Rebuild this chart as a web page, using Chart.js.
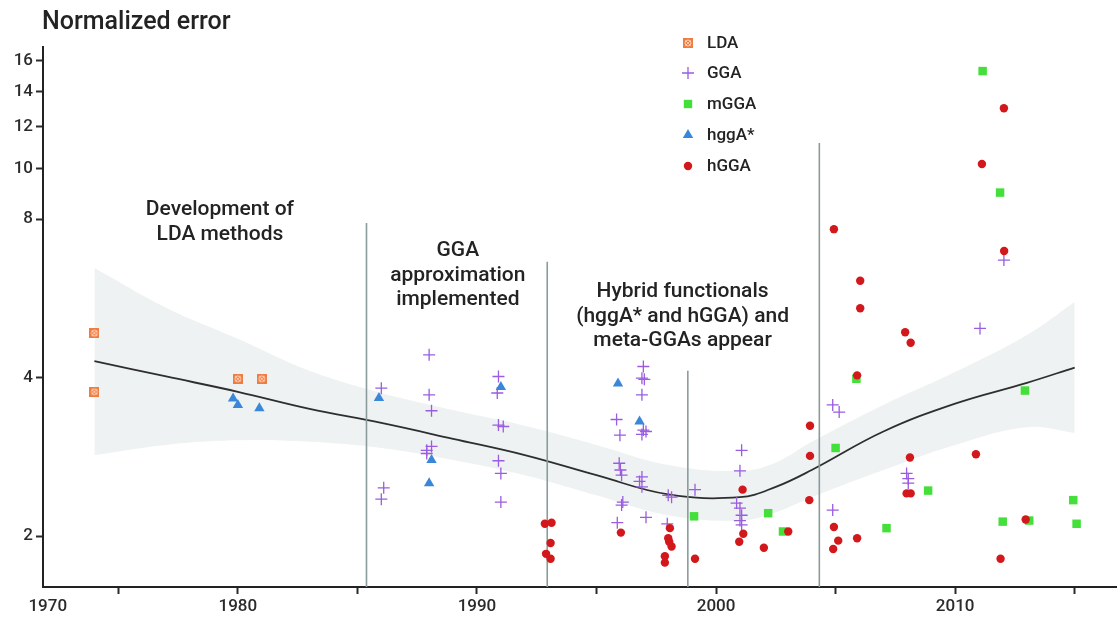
<!DOCTYPE html>
<html>
<head>
<meta charset="utf-8">
<script src="https://cdn.jsdelivr.net/npm/chart.js@4/dist/chart.umd.min.js"></script>
<style>
  html, body { margin: 0; padding: 0; background: #fff; }
  canvas { display: block; }
</style>
</head>
<body>
<canvas id="chart" width="1117" height="622"></canvas>
<script>
// ---- Data: year of publication vs. normalized error, by functional family ----
const ldaYears  = [1974.0, 1974.0, 1980.0, 1981.0];
const ldaErrors = [4.86, 3.76, 3.98, 3.98];

const ggaYears  = [1986.0, 1986.1, 1986.0, 1988.0, 1988.0, 1988.1, 1988.1, 1987.9, 1987.9,
                   1990.9, 1990.85, 1990.9, 1991.1, 1990.9, 1991.0, 1991.0,
                   1996.96, 1996.9, 1997.0, 1996.9, 1995.84, 1995.98, 1996.96, 1997.07, 1996.9,
                   1995.95, 1996.0, 1996.05, 1996.9, 1996.8, 1996.9, 1996.05, 1996.1, 1995.87, 1997.07,
                   1998.0, 1998.14, 1997.96, 1999.12,
                   2001.07, 2001.0, 2000.86, 2001.0, 2001.07, 2001.0, 2001.07,
                   2004.88, 2005.15, 2004.88, 2007.97, 2008.04, 2008.04, 2012.04, 2011.04];
const ggaErrors = [3.82, 2.47, 2.35, 4.42, 3.71, 3.46, 2.96, 2.91, 2.87,
                   4.02, 3.74, 3.25, 3.23, 2.78, 2.63, 2.32,
                   4.20, 3.99, 3.97, 3.71, 3.33, 3.11, 3.18, 3.16, 3.12,
                   2.75, 2.67, 2.61, 2.59, 2.54, 2.48, 2.29, 2.32, 2.12, 2.17,
                   2.39, 2.37, 2.11, 2.45,
                   2.91, 2.66, 2.31, 2.26, 2.19, 2.14, 2.10,
                   3.55, 3.44, 2.24, 2.63, 2.57, 2.52, 6.69, 4.96];

const mggaYears  = [1999.08, 2002.18, 2002.8, 2005.87, 2005.0, 2007.13, 2008.87,
                    2011.15, 2011.88, 2012.92, 2011.99, 2013.1, 2014.94, 2015.08];
const mggaErrors = [2.18, 2.21, 2.04, 3.98, 2.94, 2.07, 2.44,
                    15.3, 8.99, 3.78, 2.13, 2.14, 2.34, 2.11];

const hggaStarYears  = [1979.8, 1980.0, 1980.9, 1985.9, 1988.1, 1988.0, 1991.0, 1995.9, 1996.8];
const hggaStarErrors = [3.65, 3.55, 3.50, 3.66, 2.79, 2.52, 3.84, 3.90, 3.30];

const hggaYears  = [1992.84, 1993.12, 1993.08, 1992.89, 1993.08,
                    1996.02, 1998.07, 1998.0, 1998.04, 1998.14, 1997.86, 1997.86, 1999.12,
                    2001.11, 2001.14, 2000.97, 2002.0, 2003.02, 2003.93, 2003.93, 2003.9,
                    2004.93, 2006.03, 2006.03, 2005.9, 2007.91, 2008.14, 2008.11, 2007.97, 2008.14,
                    2004.93, 2005.11, 2004.9, 2005.9,
                    2012.04, 2011.12, 2012.05, 2010.87, 2012.95, 2011.9];
const hggaErrors = [2.11, 2.12, 1.94, 1.85, 1.81,
                    2.03, 2.07, 1.98, 1.95, 1.91, 1.83, 1.78, 1.81,
                    2.45, 2.02, 1.95, 1.90, 2.04, 3.24, 2.84, 2.34,
                    7.66, 6.11, 5.42, 4.04, 4.88, 4.66, 2.82, 2.41, 2.41,
                    2.08, 1.96, 1.89, 1.98,
                    13.0, 10.19, 6.96, 2.86, 2.15, 1.81];

// Smoothed trend and its confidence band
const trendYears = [1974, 1977, 1980, 1983, 1986, 1989, 1992, 1995, 1998, 2001, 2002.5, 2004, 2007, 2010, 2013, 2015];
const trendFit   = [4.30, 4.02, 3.76, 3.49, 3.28, 3.06, 2.85, 2.61, 2.40, 2.37, 2.48, 2.67, 3.16, 3.57, 3.91, 4.18];
const bandUpper  = [6.46, 5.43, 4.74, 4.12, 3.74, 3.47, 3.24, 2.98, 2.73, 2.66, 2.76, 3.02, 3.55, 4.10, 4.82, 5.57];
const bandLower  = [2.85, 2.98, 3.04, 3.02, 2.94, 2.79, 2.61, 2.39, 2.19, 2.14, 2.22, 2.37, 2.67, 2.98, 3.22, 3.14];

// Era dividers (year, height of the divider)
const eraYears = [1985.38, 1992.94, 1998.82, 2004.32];
const eraTops  = [7.87, 6.64, 4.12, 11.17];

// Axis ticks
const xTickValues = [1972.05, 1975, 1980, 1985, 1990, 1995, 2000, 2005, 2010, 2015];
const xTickLabels = ['1970', '', '1980', '', '1990', '', '2000', '', '2010', ''];
const yTickValues = [2, 4, 8, 10, 12, 14, 16];

// Era captions
const eraNotes = [
  { year: 1979.25, error: 8.33, lines: ['Development of', 'LDA methods'] },
  { year: 1989.2,  error: 6.96, lines: ['GGA', 'approximation', 'implemented'] },
  { year: 1998.6,  error: 5.82, lines: ['Hybrid functionals', '(hggA* and hGGA) and', 'meta-GGAs appear'] }
];

// ---- Styling ----
const FONT = 'Roboto, "Noto Sans", "DejaVu Sans", sans-serif';
const X_MIN = 1971.85, X_MAX = 2016.77;
const Y_MIN = 1.6, Y_MAX = 17;
const COLORS = {
  lda: '#ef7c43',
  gga: '#9a5ce0',
  mgga: '#44df3a',
  hggaStar: '#3a86d9',
  hgga: '#d3181c',
  era: '#8b9b9b',
  trend: '#2e2e2e',
  band: '#eef2f2',
  text: '#232323'
};

function makeLdaMarker() {
  const c = document.createElement('canvas');
  c.width = 10; c.height = 10;
  const g = c.getContext('2d');
  g.fillStyle = COLORS.lda;
  g.fillRect(0, 0, 10, 10);
  g.strokeStyle = 'rgba(255,214,186,0.9)';
  g.lineWidth = 1;
  g.beginPath();
  g.moveTo(2.5, 2.5); g.lineTo(7.5, 7.5);
  g.moveTo(7.5, 2.5); g.lineTo(2.5, 7.5);
  g.stroke();
  g.beginPath();
  g.arc(5, 5, 3, 0, Math.PI * 2);
  g.stroke();
  return c;
}
const ldaMarker = makeLdaMarker();

const pts = (xs, ys) => xs.map((x, i) => ({ x, y: ys[i] }));

const markerSets = [
  { label: 'LDA',   data: pts(ldaYears, ldaErrors), pointStyle: ldaMarker, pointRadius: 5,
    pointBackgroundColor: COLORS.lda, pointBorderColor: COLORS.lda, pointBorderWidth: 0, order: 2 },
  { label: 'GGA',   data: pts(ggaYears, ggaErrors), pointStyle: 'cross', pointRadius: 6,
    pointBackgroundColor: COLORS.gga, pointBorderColor: COLORS.gga, pointBorderWidth: 1.3,
    borderColor: COLORS.gga, order: 2 },
  { label: 'mGGA',  data: pts(mggaYears, mggaErrors), pointStyle: 'rect', pointRadius: 6,
    pointBackgroundColor: COLORS.mgga, pointBorderColor: COLORS.mgga, pointBorderWidth: 0, order: 1 },
  { label: 'hggA*', data: pts(hggaStarYears, hggaStarErrors), pointStyle: 'triangle', pointRadius: 6,
    pointBackgroundColor: COLORS.hggaStar, pointBorderColor: COLORS.hggaStar, pointBorderWidth: 0, order: 1 },
  { label: 'hGGA',  data: pts(hggaYears, hggaErrors), pointStyle: 'circle', pointRadius: 4.2,
    pointBackgroundColor: COLORS.hgga, pointBorderColor: COLORS.hgga, pointBorderWidth: 0, order: 0 }
];

const datasets = markerSets.map(d => Object.assign({ showLine: false, pointHoverRadius: d.pointRadius }, d));

const lowerIndex = datasets.length;
datasets.push({
  label: 'band-lower', data: pts(trendYears, bandLower), showLine: true, pointRadius: 0,
  borderColor: 'rgba(0,0,0,0)', borderWidth: 1, tension: 0.4, fill: false, order: 9
});
datasets.push({
  label: 'band-upper', data: pts(trendYears, bandUpper), showLine: true, pointRadius: 0,
  borderColor: 'rgba(0,0,0,0)', borderWidth: 1, tension: 0.4,
  fill: { target: lowerIndex }, backgroundColor: COLORS.band, order: 8
});
datasets.push({
  label: 'trend', data: pts(trendYears, trendFit), showLine: true, pointRadius: 0,
  borderColor: COLORS.trend, borderWidth: 1.8, tension: 0.4, fill: false, order: 6
});
eraYears.forEach((yr, i) => {
  datasets.push({
    label: 'era-' + i, data: [{ x: yr, y: Y_MIN }, { x: yr, y: eraTops[i] }], showLine: true,
    pointRadius: 0, borderColor: COLORS.era, borderWidth: 1.6, fill: false, order: 5
  });
});

// Title, era captions and the legend block
const decorations = {
  id: 'decorations',
  afterDatasetsDraw(chart) {
    const { ctx, scales: { x, y } } = chart;
    ctx.save();
    ctx.fillStyle = COLORS.text;
    ctx.textBaseline = 'middle';

    // axis title
    ctx.font = `500 25px ${FONT}`;
    ctx.textAlign = 'left';
    ctx.fillText('Normalized error', 42, 23);

    // era captions
    ctx.font = `500 21px ${FONT}`;
    ctx.textAlign = 'center';
    eraNotes.forEach(note => {
      const px = x.getPixelForValue(note.year);
      const py = y.getPixelForValue(note.error);
      note.lines.forEach((line, i) => ctx.fillText(line, px, py + i * 24.5));
    });

    // legend
    const rowY = [43, 73, 104, 135, 166];
    const mx = 688, tx = 707;
    ctx.font = `500 17px ${FONT}`;
    ctx.textAlign = 'left';
    markerSets.forEach((d, i) => {
      const cy = rowY[i];
      const color = d.pointBorderColor;
      ctx.fillStyle = color;
      ctx.strokeStyle = color;
      if (d.pointStyle === ldaMarker) {
        ctx.drawImage(ldaMarker, mx - 5, cy - 5);
      } else if (d.pointStyle === 'cross') {
        ctx.lineWidth = 1.3;
        ctx.beginPath();
        ctx.moveTo(mx - 6, cy); ctx.lineTo(mx + 6, cy);
        ctx.moveTo(mx, cy - 6); ctx.lineTo(mx, cy + 6);
        ctx.stroke();
      } else if (d.pointStyle === 'rect') {
        ctx.fillRect(mx - 4.2, cy - 4.2, 8.4, 8.4);
      } else if (d.pointStyle === 'triangle') {
        const r = 6;
        ctx.beginPath();
        ctx.moveTo(mx, cy - r);
        ctx.lineTo(mx + r * Math.sin(2 * Math.PI / 3), cy + r / 2);
        ctx.lineTo(mx - r * Math.sin(2 * Math.PI / 3), cy + r / 2);
        ctx.closePath();
        ctx.fill();
      } else {
        ctx.beginPath();
        ctx.arc(mx, cy, 4.2, 0, Math.PI * 2);
        ctx.fill();
      }
      ctx.fillStyle = COLORS.text;
      ctx.fillText(d.label, tx, cy + 1);
    });
    ctx.restore();
  }
};

const axisInk = '#2b2b2b';

new Chart(document.getElementById('chart'), {
  type: 'scatter',
  data: { datasets },
  plugins: [decorations],
  options: {
    responsive: false,
    animation: false,
    devicePixelRatio: 1,
    layout: { autoPadding: false, padding: { top: 47, left: 0, right: 0, bottom: 0 } },
    plugins: { legend: { display: false }, tooltip: { enabled: false } },
    scales: {
      x: {
        type: 'linear',
        min: X_MIN,
        max: X_MAX,
        afterBuildTicks: s => { s.ticks = xTickValues.map(v => ({ value: v })); },
        afterFit: s => { s.height = 35; s.paddingLeft = 0; s.paddingRight = 0; },
        grid: {
          display: true, drawOnChartArea: false, drawTicks: true, tickLength: 7, tickWidth: 2,
          tickColor: c => (c.index === 0 ? 'rgba(0,0,0,0)' : axisInk)
        },
        border: { display: true, color: '#222', width: 2 },
        ticks: {
          autoSkip: false, maxRotation: 0, minRotation: 0, padding: 3, color: axisInk,
          font: { family: FONT, size: 17, weight: '500' },
          callback: (v, i) => xTickLabels[i]
        }
      },
      y: {
        type: 'logarithmic',
        min: Y_MIN,
        max: Y_MAX,
        afterBuildTicks: s => { s.ticks = yTickValues.map(v => ({ value: v })); },
        afterFit: s => { s.width = 43; s.paddingTop = 0; s.paddingBottom = 0; },
        grid: { display: true, drawOnChartArea: false, drawTicks: true, tickLength: 7, tickWidth: 2, tickColor: axisInk },
        border: { display: true, color: '#222', width: 2 },
        ticks: {
          autoSkip: false, padding: 3, color: axisInk,
          font: { family: FONT, size: 17, weight: '500' },
          callback: v => String(v)
        }
      }
    }
  }
});
</script>
</body>
</html>
